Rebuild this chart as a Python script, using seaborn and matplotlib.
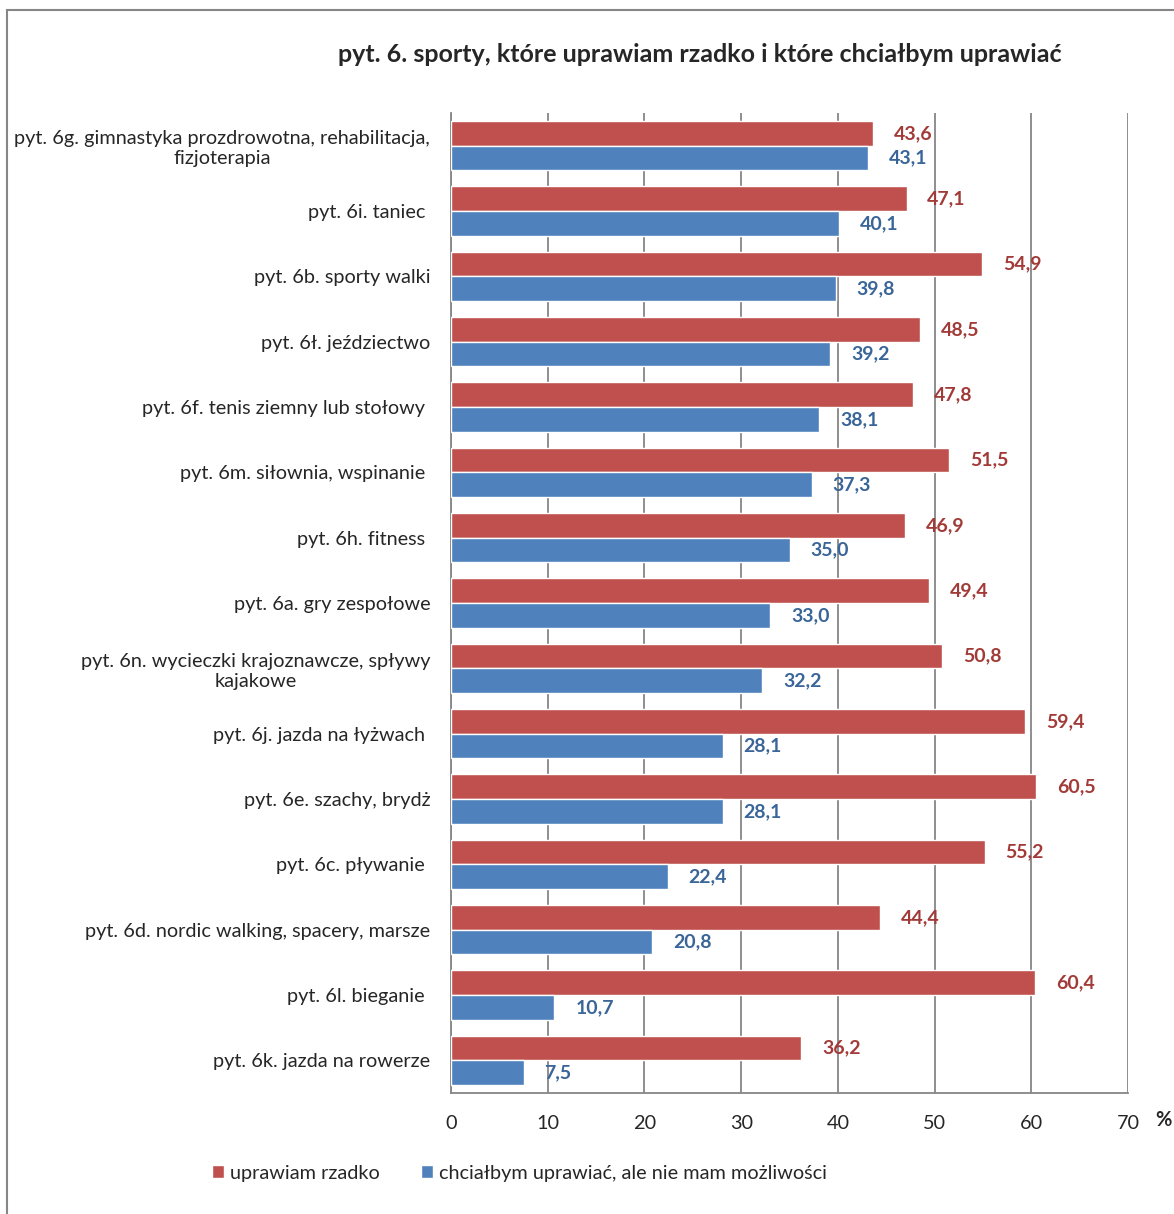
import pandas as pd
import seaborn as sns
import matplotlib.pyplot as plt
from matplotlib.patches import Patch, Rectangle

categories = [
    "pyt. 6g. gimnastyka prozdrowotna, rehabilitacja,\nfizjoterapia",
    "pyt. 6i. taniec ",
    "pyt. 6b. sporty walki",
    "pyt. 6ł. jeździectwo",
    "pyt. 6f. tenis ziemny lub stołowy ",
    "pyt. 6m. siłownia, wspinanie ",
    "pyt. 6h. fitness ",
    "pyt. 6a. gry zespołowe",
    "pyt. 6n. wycieczki krajoznawcze, spływy\nkajakowe",
    "pyt. 6j. jazda na łyżwach ",
    "pyt. 6e. szachy, brydż",
    "pyt. 6c. pływanie ",
    "pyt. 6d. nordic walking, spacery, marsze",
    "pyt. 6l. bieganie ",
    "pyt. 6k. jazda na rowerze",
]
rzadko = [43.6, 47.1, 54.9, 48.5, 47.8, 51.5, 46.9, 49.4, 50.8, 59.4, 60.5, 55.2, 44.4, 60.4, 36.2]
chcialbym = [43.1, 40.1, 39.8, 39.2, 38.1, 37.3, 35.0, 33.0, 32.2, 28.1, 28.1, 22.4, 20.8, 10.7, 7.5]
series = ["uprawiam rzadko", "chciałbym uprawiać, ale nie mam możliwości"]

df = pd.DataFrame({
    "kat": categories * 2,
    "val": rzadko + chcialbym,
    "ser": [series[0]] * len(categories) + [series[1]] * len(categories),
})

sns.set_style("white")
plt.rcParams['font.family'] = ['Lato', 'DejaVu Sans']

red, blue = "#C0504D", "#4F81BD"
red_txt, blue_txt = "#A23B38", "#3A6598"
grey = "#868686"

fig = plt.figure(figsize=(11.74, 12.14), dpi=100)
ax = fig.add_axes([451 / 1174, 1 - 1093 / 1214, 677 / 1174, 980 / 1214])

sns.barplot(data=df, x="val", y="kat", hue="ser", hue_order=series, order=categories,
            palette=[red, blue], orient="h", width=0.76, ax=ax, legend=False,
            saturation=1, zorder=3)

for cont, col in zip(ax.containers, [red_txt, blue_txt]):
    labs = [f"{b.get_width():.1f}".replace(".", ",") for b in cont]
    ax.bar_label(cont, labels=labs, padding=15, color=col, fontsize=14, fontweight="bold")

ax.set_xlim(0, 70)
ax.set_ylim(len(categories) - 0.5, -0.5)
ax.set_xticks(range(0, 71, 10))
ax.xaxis.grid(True, color=grey, linewidth=1.3, zorder=0)
ax.set_axisbelow(True)
ax.set_xlabel("")
ax.set_ylabel("")

ax.set_yticks(range(len(categories)))
ax.set_yticklabels(categories, multialignment="center")
ax.set_yticks([i - 0.5 for i in range(len(categories) + 1)], minor=True)
ax.tick_params(axis="y", which="major", length=0, pad=15, labelsize=14.3)
ax.tick_params(axis="y", which="minor", length=5, color=grey, width=1.2, direction="out")
ax.tick_params(axis="x", length=8, color=grey, width=1.2, direction="out", pad=8, labelsize=14.3)

for s in ["top", "right"]:
    ax.spines[s].set_visible(False)
for s in ["left", "bottom"]:
    ax.spines[s].set_color(grey)
    ax.spines[s].set_linewidth(1.3)

ax.text(1.052, -0.028, "%", transform=ax.transAxes, fontsize=14.5, fontweight="bold",
        ha="center", va="center")

fig.text(700 / 1174, 1 - 54 / 1214, "pyt. 6. sporty, które uprawiam rzadko i które chciałbym uprawiać",
         ha="center", va="center", fontsize=18, fontweight="bold")

handles = [Patch(facecolor=red), Patch(facecolor=blue)]
fig.legend(handles, series, loc="center left", bbox_to_anchor=(194 / 1174, 1 - 1173 / 1214),
           ncol=2, frameon=False, fontsize=14.3, handlelength=0.6, handleheight=0.6,
           handletextpad=0.3, columnspacing=2.1)

fig.add_artist(Rectangle((7 / 1174, -0.1), 1.2, 1.1 - 10 / 1214, transform=fig.transFigure,
                         fill=False, edgecolor=grey, linewidth=1.5))

fig.savefig("out.png", dpi=100)
